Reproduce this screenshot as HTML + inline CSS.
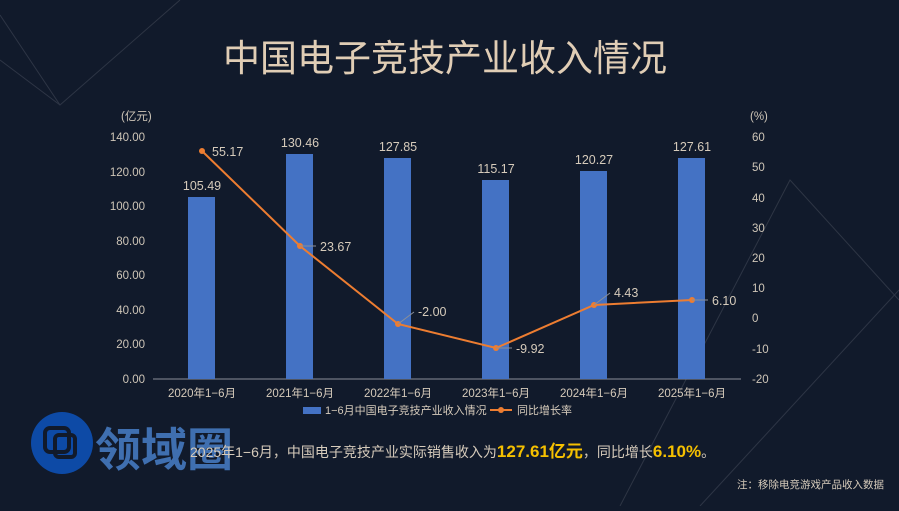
<!DOCTYPE html><html><head><meta charset="utf-8"><style>
body{margin:0;width:899px;height:506px;background:#111a2b;overflow:hidden;font-family:"Liberation Sans","Noto Sans CJK SC",sans-serif}
</style></head><body>
<svg width="899" height="506" xmlns="http://www.w3.org/2000/svg" font-family="Liberation Sans, Noto Sans CJK SC, sans-serif">
<rect width="899" height="506" fill="#111a2b"/>
<g stroke="#3a4150" stroke-width="1" fill="none" opacity="0.7">
<path d="M0 15 L60 105 L180 0"/><path d="M0 60 L60 105"/><path d="M620 506 L790 180 L899 300"/><path d="M700 506 L899 290"/>
</g>
<text x="445" y="71" fill="#e0cdb5" font-size="37" text-anchor="middle">中国电子竞技产业收入情况</text>
<g fill="#cfc6b8" font-size="11.5">
<text x="121" y="120">(亿元)</text><text x="750" y="120">(%)</text>
<g text-anchor="end">
<text x="145" y="141">140.00</text><text x="145" y="176">120.00</text><text x="145" y="210">100.00</text><text x="145" y="245">80.00</text><text x="145" y="279">60.00</text><text x="145" y="314">40.00</text><text x="145" y="348">20.00</text><text x="145" y="383">0.00</text>
</g>
<g text-anchor="start">
<text x="752" y="141">60</text><text x="752" y="171">50</text><text x="752" y="202">40</text><text x="752" y="232">30</text><text x="752" y="262">20</text><text x="752" y="292">10</text><text x="752" y="322">0</text><text x="752" y="353">-10</text><text x="752" y="383">-20</text>
</g>
</g>
<line x1="153" y1="379" x2="741" y2="379" stroke="#8a8f99"/>
<g fill="#4472c4">
<rect x="188" y="197" width="27" height="182"/><rect x="286" y="154" width="27" height="225"/><rect x="384" y="158" width="27" height="221"/><rect x="482" y="180" width="27" height="199"/><rect x="580" y="171" width="27" height="208"/><rect x="678" y="158" width="27" height="221"/>
</g>
<g fill="#d6cbbb" font-size="12.5" text-anchor="middle">
<text x="202" y="190">105.49</text><text x="300" y="147">130.46</text><text x="398" y="151">127.85</text><text x="496" y="173">115.17</text><text x="594" y="164">120.27</text><text x="692" y="151">127.61</text>
</g>
<polyline points="202,151 300,246 398,324 496,348 594,305 692,300" fill="none" stroke="#ed7d31" stroke-width="2"/>
<g fill="#ed7d31"><circle cx="202" cy="151" r="3"/><circle cx="300" cy="246" r="3"/><circle cx="398" cy="324" r="3"/><circle cx="496" cy="348" r="3"/><circle cx="594" cy="305" r="3"/><circle cx="692" cy="300" r="3"/></g>
<g stroke="#8a8f99" stroke-width="1"><line x1="300" y1="246" x2="316" y2="246"/><line x1="398" y1="324" x2="414" y2="312"/><line x1="496" y1="348" x2="512" y2="348"/><line x1="594" y1="305" x2="610" y2="293"/><line x1="692" y1="300" x2="708" y2="300"/></g>
<g fill="#d6cbbb" font-size="12.5">
<text x="212" y="156">55.17</text><text x="320" y="251">23.67</text><text x="418" y="316">-2.00</text><text x="516" y="353">-9.92</text><text x="614" y="297">4.43</text><text x="712" y="305">6.10</text>
</g>
<g fill="#d6cbbb" font-size="11.5" text-anchor="middle">
<text x="202" y="397">2020年1−6月</text><text x="300" y="397">2021年1−6月</text><text x="398" y="397">2022年1−6月</text><text x="496" y="397">2023年1−6月</text><text x="594" y="397">2024年1−6月</text><text x="692" y="397">2025年1−6月</text>
</g>
<rect x="303" y="407" width="18" height="7" fill="#4472c4"/>
<text x="325" y="414" fill="#d6cbbb" font-size="11">1−6月中国电子竞技产业收入情况</text>
<line x1="490" y1="410" x2="512" y2="410" stroke="#ed7d31" stroke-width="2"/><circle cx="501" cy="410" r="3" fill="#ed7d31"/>
<text x="517" y="414" fill="#d6cbbb" font-size="11">同比增长率</text>
<circle cx="62" cy="443" r="31" fill="#0d4aa6"/>
<rect x="45" y="428" width="24" height="24" rx="5" fill="none" stroke="#111a2b" stroke-width="4"/>
<rect x="55" y="435" width="20" height="22" rx="4" fill="none" stroke="#111a2b" stroke-width="4"/>
<text x="95" y="466" fill="#3f6fb0" font-size="46" font-weight="bold">领域圈</text>
<text x="190" y="457" fill="#d6cbbb" font-size="14">2025年1−6月，中国电子竞技产业实际销售收入为<tspan fill="#f5c000" font-size="17" font-weight="bold">127.61亿元</tspan>，同比增长<tspan fill="#f5c000" font-size="17" font-weight="bold">6.10%</tspan>。</text>
<text x="884" y="488" fill="#d6cbbb" font-size="10.5" text-anchor="end">注：移除电竞游戏产品收入数据</text>
</svg>
</body></html>
